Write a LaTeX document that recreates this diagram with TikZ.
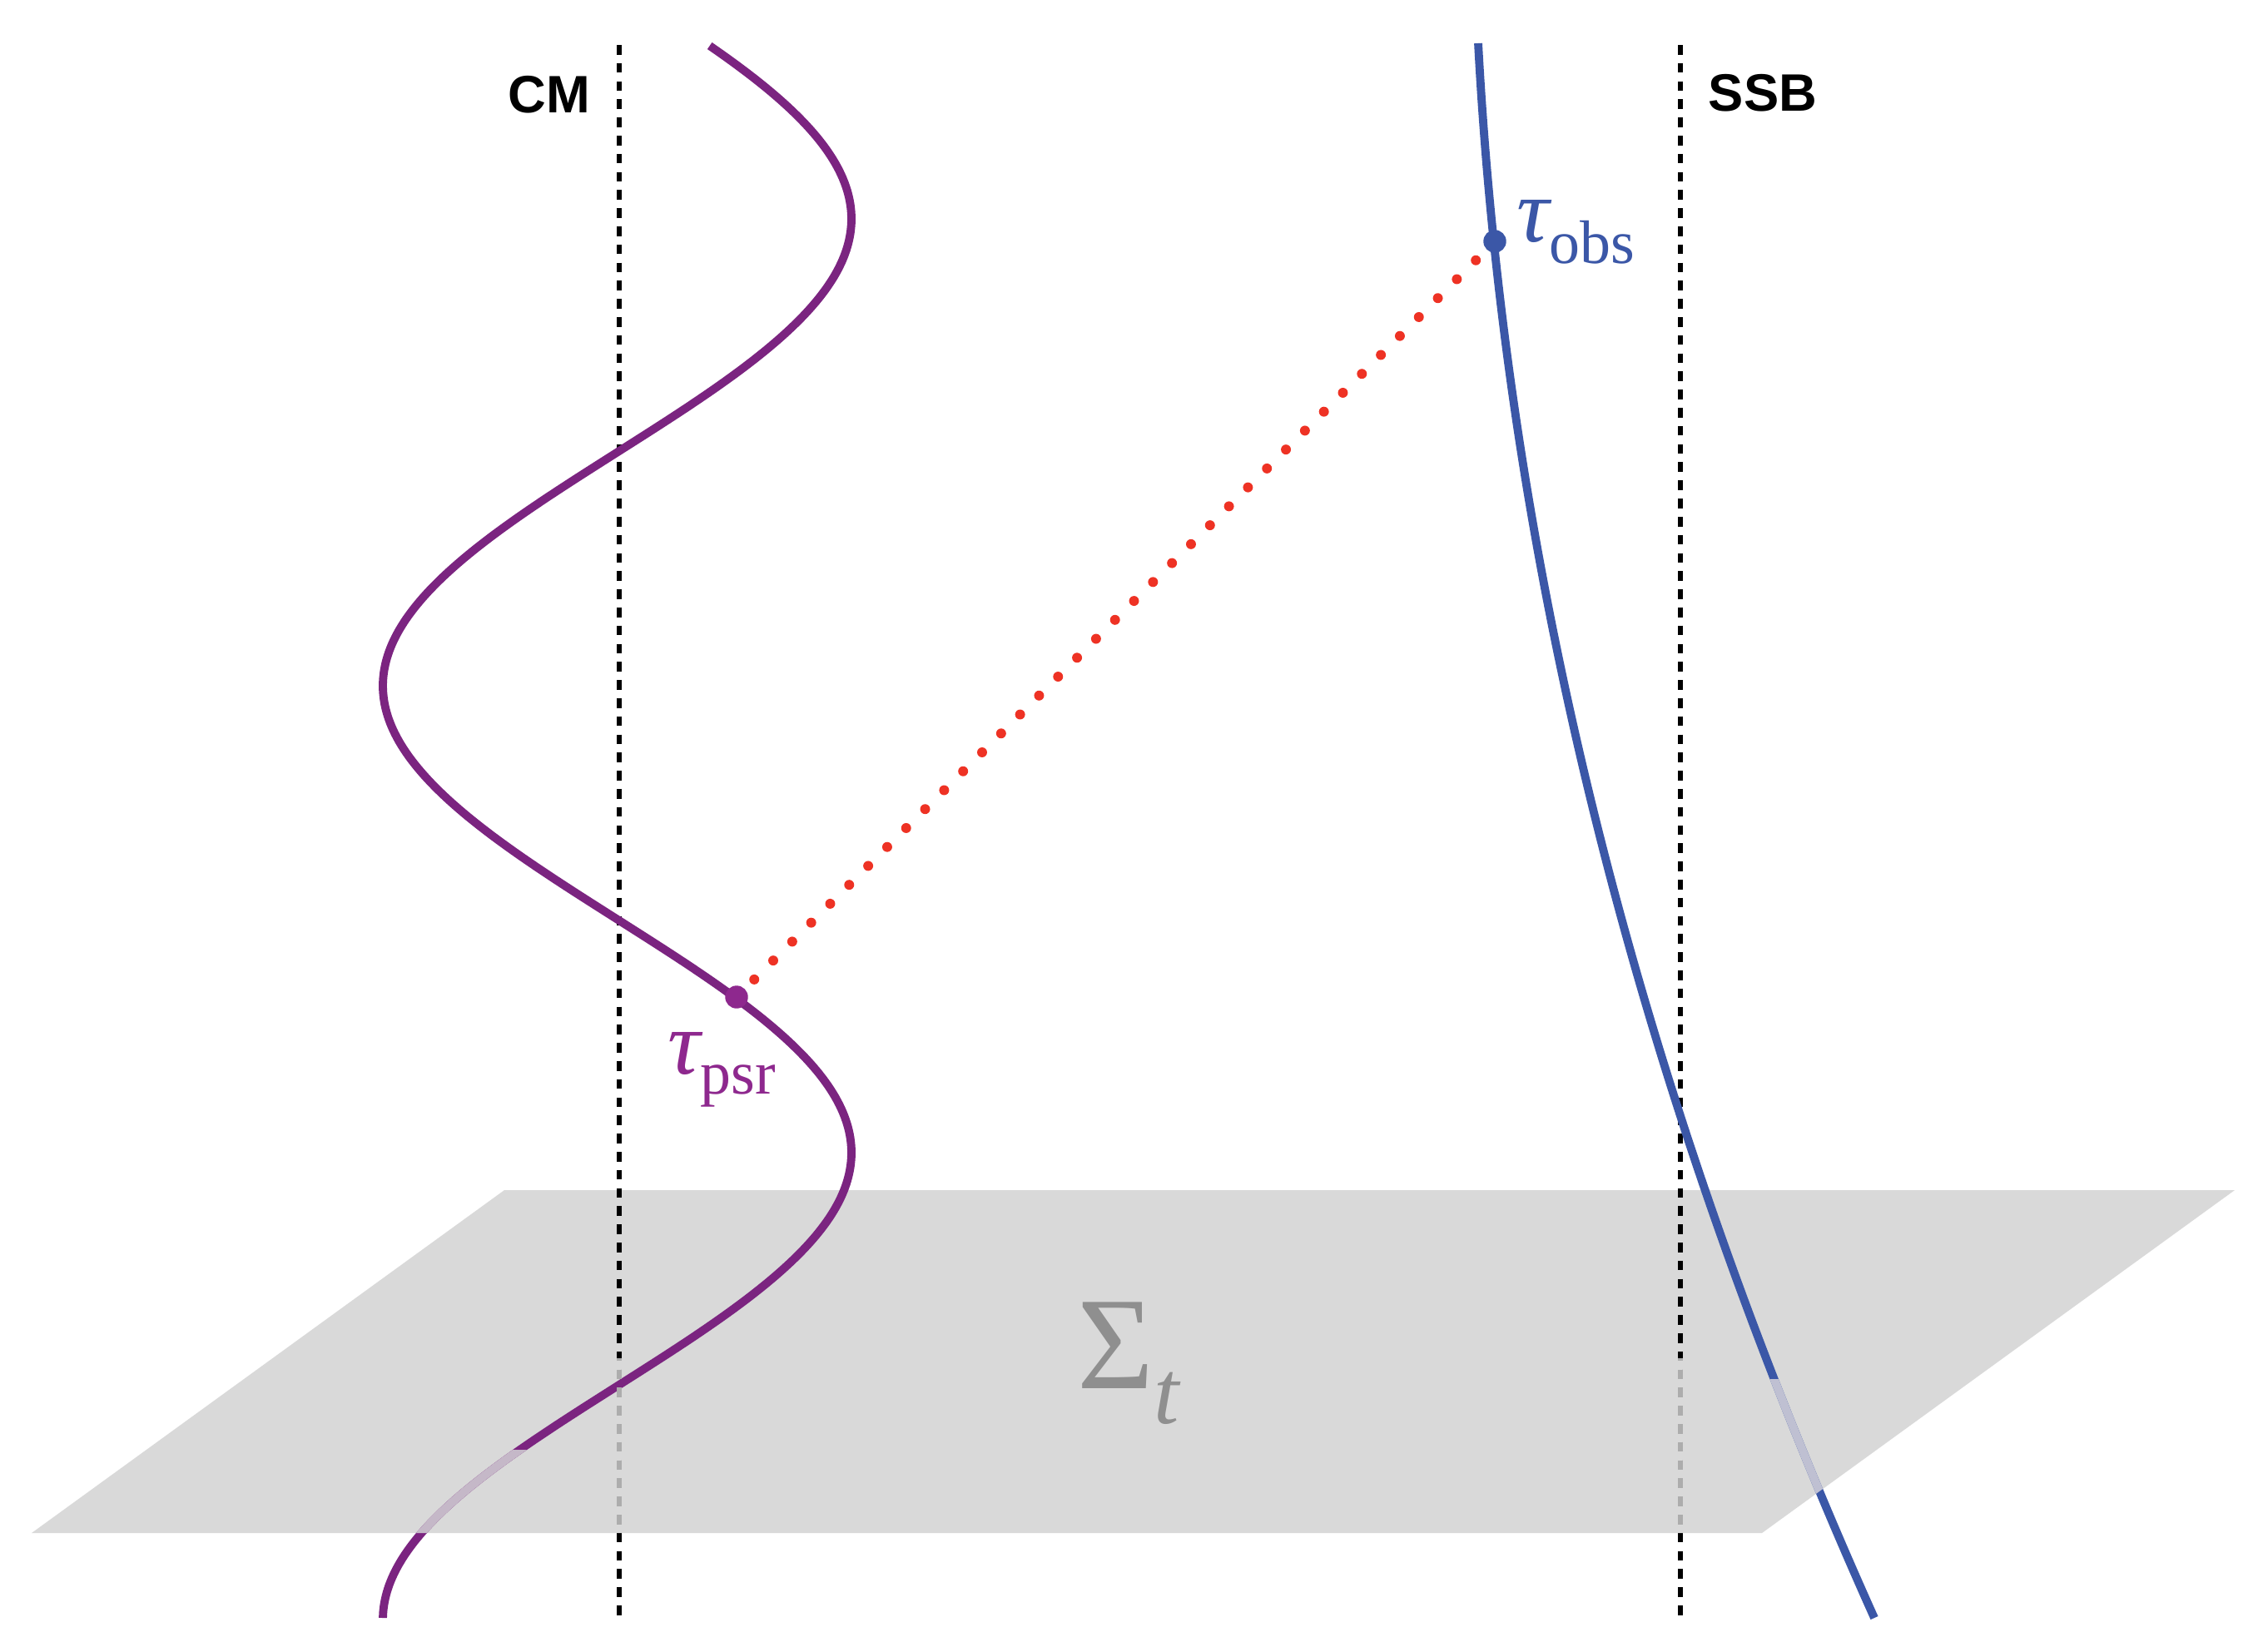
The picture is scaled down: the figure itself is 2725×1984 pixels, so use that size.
\documentclass[tikz,border=0pt]{standalone}
\usepackage{fontspec}
\newfontfamily\serifG{Liberation Serif}
\newfontfamily\sansB{Liberation Sans}
\definecolor{pcurve}{RGB}{123,36,128}
\definecolor{pdot}{RGB}{142,40,142}
\definecolor{plight}{RGB}{197,184,200}
\definecolor{bcurve}{RGB}{59,87,167}
\definecolor{blight}{RGB}{191,192,210}
\definecolor{planegray}{RGB}{217,217,217}
\definecolor{hidgray}{RGB}{173,173,173}
\definecolor{sigmagray}{RGB}{143,143,143}
\definecolor{rdot}{RGB}{238,50,36}
\begin{document}
\begin{tikzpicture}[x=0.01cm,y=-0.01cm,
  curvep/.style={line width=2.8pt, draw=pcurve},
  curveb/.style={line width=2.8pt, draw=bcurve},
  refline/.style={line width=1.7pt, dash pattern=on 3.3pt off 2.9pt},
  reddots/.style={line width=3.4pt, dash pattern=on 0pt off 9.16pt, line cap=round, draw=rdot},
  evdot/.style={circle, inner sep=0pt, minimum size=7.8pt},
  lbl/.style={inner sep=0pt, anchor=base west}]
\useasboundingbox (0,0) rectangle (2725,1984);
% plane
\fill[planegray] (606,1430) -- (2685,1430) -- (2117,1842) -- (38,1842) -- cycle;
% reference lines
\draw[refline] (744,54) -- (744,1945);
\draw[refline] (2019,54) -- (2019,1945);
% world lines
\draw[curvep] plot[domain=55:1944, samples=240, smooth] ({741.5+281.5*cos((\x-263)/1122*360)}, \x);
\draw[curveb] plot[domain=52:1944, samples=120, smooth] ({1773.5+0.0429*\x+1.0455*(\x/100)*(\x/100)}, \x);
% hidden parts below the plane
\begin{scope}
  \clip (606,1430) -- (2685,1430) -- (2117,1842) -- (38,1842) -- cycle;
  \begin{scope}
    \clip (0,1632) rectangle (2725,1984);
    \draw[refline, draw=hidgray] (744,54) -- (744,1945);
    \draw[refline, draw=hidgray] (2019,54) -- (2019,1945);
  \end{scope}
  \begin{scope}
    \clip (0,1742) rectangle (2725,1984);
    \draw[curvep, draw=plight] plot[domain=55:1944, samples=240, smooth] ({741.5+281.5*cos((\x-263)/1122*360)}, \x);
  \end{scope}
  \begin{scope}
    \clip (0,1657) rectangle (2725,1984);
    \draw[curveb, draw=blight] plot[domain=52:1944, samples=120, smooth] ({1773.5+0.0429*\x+1.0455*(\x/100)*(\x/100)}, \x);
  \end{scope}
\end{scope}
% events and signal
\coordinate (obspt) at (1796,290);
\coordinate (psrpt) at (885,1198);
\draw[reddots] (obspt) -- (psrpt);
\node[evdot, fill=bcurve] (obs) at (obspt) {};
\node[evdot, fill=pdot] (psr) at (psrpt) {};
% labels
\node[inner sep=0pt, anchor=base, font=\sansB\bfseries\fontsize{18}{18}\selectfont] (cm) at (660,135) {CM};
\node[inner sep=0pt, anchor=base, font=\sansB\bfseries\fontsize{18}{18}\selectfont] (ssb) at (2118,133) {SSB};
\node[lbl, text=bcurve] (tobs) at (1822,290) {{\serifG\itshape\fontsize{31}{31}\selectfont τ}\raisebox{-7.4pt}{\serifG\fontsize{21}{21}\selectfont obs}};
\node[lbl, text=pdot] (tpsr) at (802,1290) {{\serifG\itshape\fontsize{31}{31}\selectfont τ}\raisebox{-7.1pt}{\serifG\fontsize{21}{21}\selectfont psr}};
\node[lbl, text=sigmagray] (sig) at (1294,1668) {{\serifG\fontsize{45}{45}\selectfont Σ}\raisebox{-12.2pt}{\serifG\itshape\fontsize{31}{31}\selectfont t}};
\end{tikzpicture}
\end{document}
